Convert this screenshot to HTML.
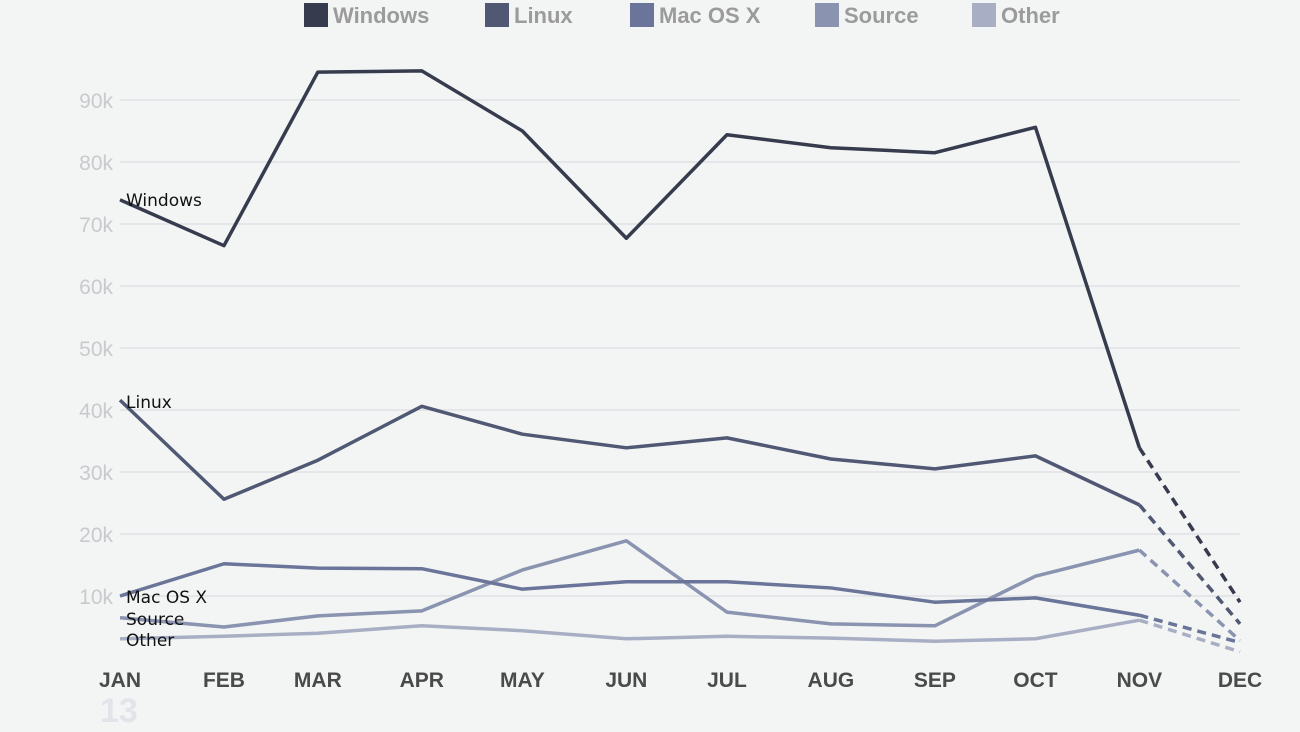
<!DOCTYPE html>
<html><head><meta charset="utf-8"><style>
html,body{margin:0;padding:0;background:#f3f5f4;}
svg{display:block;font-family:"Liberation Sans",sans-serif;}
</style></head><body>
<svg id="chart" width="1300" height="732" viewBox="0 0 1300 732">
<rect width="1300" height="732" fill="#f3f5f4"/>
<g id="legend"></g>
<g id="grid"></g>
<g id="series"></g>
<g id="xaxis"></g>
<text x="100" y="722" font-size="34" font-weight="bold" fill="#e2e4ea">13</text>
</svg>
<script>
const months=["JAN","FEB","MAR","APR","MAY","JUN","JUL","AUG","SEP","OCT","NOV","DEC"];
const yTicks=[10000,20000,30000,40000,50000,60000,70000,80000,90000];
const yTickLabels=["10k","20k","30k","40k","50k","60k","70k","80k","90k"];
const seriesNames=["Windows","Linux","Mac OS X","Source","Other"];
const windows=[73900,66500,94500,94700,85000,67700,84400,82300,81500,85600,33900,9000];
const linux=[41600,25600,31900,40600,36100,33900,35500,32100,30500,32600,24700,5500];
const macos=[10000,15200,14500,14400,11100,12300,12300,11300,9000,9700,6900,2500];
const source=[6500,5000,6800,7600,14200,18900,7400,5500,5200,13200,17400,2800];
const other=[3100,3500,4000,5200,4400,3100,3500,3200,2700,3100,6100,1000];
const colors=["#363c4e","#505873","#6a7599","#8a93b0","#a8aec4"];
const allSeries=[windows,linux,macos,source,other];
const NS="http://www.w3.org/2000/svg";
function el(tag,attrs,parent){const e=document.createElementNS(NS,tag);for(const k in attrs)e.setAttribute(k,attrs[k]);parent.appendChild(e);return e;}
// time scale: month index -> day of year (2013)
const t0=Date.UTC(2013,0,1), t1=Date.UTC(2013,11,1);
const x=i=>120+(Date.UTC(2013,i,1)-t0)/(t1-t0)*(1240-120);
const y=v=>658-v*62/10000;
const grid=document.getElementById('grid');
yTicks.forEach((t,i)=>{
  const l=el('line',{x1:120,x2:1240,y1:y(t),y2:y(t),stroke:"#e4e6ea","stroke-width":2},grid);
  
  
  const tx=el('text',{x:113,y:y(t)+8,"text-anchor":"end","font-size":21,fill:"#c8cacd"},grid);
  tx.textContent=yTickLabels[i];
  
  
});
const xa=document.getElementById('xaxis');
months.forEach((m,i)=>{
  const t=el('text',{x:x(i),y:687,"text-anchor":"middle","font-size":21,"font-weight":"bold",fill:"#4a4a4a"},xa);
  t.textContent=m;
  
  
});
const sg=document.getElementById('series');
for(let s=allSeries.length-1;s>=0;s--){
  const d=allSeries[s];
  const solid=d.slice(0,11).map((v,i)=>x(i)+","+y(v)).join(" ");
  const p=el('polyline',{points:solid,fill:"none",stroke:colors[s],"stroke-width":3.5,"stroke-linejoin":"round"},sg);
  
  
  const dl=el('line',{x1:x(10),y1:y(d[10]),x2:x(11),y2:y(d[11]),stroke:colors[s],"stroke-width":3.5,"stroke-dasharray":"9,6"},sg);
  
  
}
const labYs=[y(windows[0])+6,y(linux[0])+8,y(macos[0])+7,y(macos[0])+29,y(macos[0])+50];
seriesNames.forEach((n,s)=>{
  const t=el('text',{x:126,y:labYs[s],"font-size":17,fill:"#111","font-family":"DejaVu Sans,sans-serif"},sg);
  t.textContent=n;
  
  
});
const lg=document.getElementById('legend');
const legX=[304,485,630,815,972];
seriesNames.forEach((n,s)=>{
  const g=el('g',{},lg);
  
  
  el('rect',{x:legX[s],y:3,width:24,height:24,fill:colors[s]},g);
  const t=el('text',{x:legX[s]+29,y:23,"font-size":22,"font-weight":"bold",fill:"#9b9b9b"},g);
  t.textContent=n;
});
</script>
</body></html>
